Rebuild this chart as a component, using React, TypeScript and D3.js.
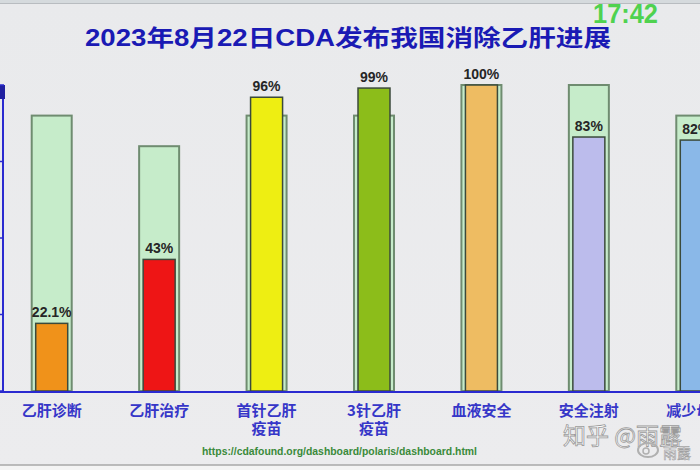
import React from "react";
import * as d3 from "d3";

const categories = ["乙肝诊断", "乙肝治疗", "首针乙肝\n疫苗", "3针乙肝\n疫苗", "血液安全", "安全注射", "减少母婴"];
const actualValues = [22.1, 43, 96, 99, 100, 83, 82];
const valueLabels = ["22.1%", "43%", "96%", "99%", "100%", "83%", "82%"];
const targetValues = [90, 80, 90, 90, 100, 100, 90];
const barColors = ["#f0921a", "#ee1515", "#eeee12", "#8cbd1a", "#eebc62", "#bcbcec", "#8ab8e8"];
const yTicks = [0, 25, 50, 75, 100];

const W = 700;
const H = 470;
const CJK = "'Liberation Sans', Arial, 'Noto Sans CJK SC', sans-serif";

export default function App() {
  const x = d3.scaleBand<string>().domain(categories).range([-2, 750]).padding(0);
  const y = d3.scaleLinear().domain([0, 100]).range([391, 85]);
  const step = x.step();
  const outerW = 40;
  const innerW = 32;

  return (
    <svg width={W} height={H} style={{ position: "absolute", left: 0, top: 0, display: "block" }}>
      <defs>
        <linearGradient id="bg" x1="0" y1="0" x2="0" y2="1">
          <stop offset="0" stopColor="#e9eaec" />
          <stop offset="1" stopColor="#ececee" />
        </linearGradient>
      </defs>
      <rect x={0} y={0} width={W} height={H} fill="url(#bg)" />
      <rect x={0} y={0} width={W} height={3} fill="#d5dadd" />
      <line x1={0} x2={W} y1={3.5} y2={3.5} stroke="#b8bcc0" strokeWidth={1} />
      <rect x={0} y={465} width={W} height={5} fill="#f4f4f4" />
      <line x1={0} x2={W} y1={465} y2={465} stroke="#a8a8a8" strokeWidth={1.5} />

      {/* clock */}
      <text x={593} y={23} fontFamily={CJK} fontSize={27} fontWeight="bold" fill="#4fd24f" textLength={65} lengthAdjust="spacingAndGlyphs">17:42</text>

      {/* title */}
      <text x={85} y={46} fontFamily={CJK} fontSize={23} fontWeight="bold" fill="#1a1ab4" textLength={526} lengthAdjust="spacingAndGlyphs">2023年8月22日CDA发布我国消除乙肝进展</text>

      {/* bars */}
      {categories.map((c, i) => {
        const cx = (x(c) as number) + step / 2;
        return (
          <g key={c}>
            <rect x={cx - outerW / 2} y={y(targetValues[i])} width={outerW} height={y(0) - y(targetValues[i])}
              fill="#c6ecca" stroke="#6f8c70" strokeWidth={2} />
            <rect x={cx - innerW / 2} y={y(actualValues[i])} width={innerW} height={y(0) - y(actualValues[i])}
              fill={barColors[i]} stroke="#3b4a3b" strokeWidth={1.5} />
            <text x={cx} y={y(actualValues[i]) - 6} textAnchor="middle" fontFamily={CJK} fontSize={14}
              fontWeight="bold" fill="#262626">{valueLabels[i]}</text>
          </g>
        );
      })}

      {/* axes */}
      <line x1={3} x2={3} y1={y(100)} y2={y(0)} stroke="#2a2ad0" strokeWidth={2} />
      <rect x={0} y={y(100)} width={5} height={14} fill="#2020a0" />
      {yTicks.map((t) => (
        <line key={t} x1={0} x2={4} y1={y(t)} y2={y(t)} stroke="#2a2ad0" strokeWidth={1.5} />
      ))}
      <line x1={0} x2={W} y1={y(0) + 1} y2={y(0) + 1} stroke="#2a2ad0" strokeWidth={2} />

      {/* category labels */}
      {categories.map((c) => {
        const cx = (x(c) as number) + step / 2;
        const lines = c.split("\n");
        return (
          <text key={c} textAnchor="middle" fontFamily="'Noto Sans CJK SC', sans-serif" fontSize={15}
            fontWeight="bold" fill="#3636c8">
            {lines.map((l, j) => (
              <tspan key={j} x={cx} y={416 + j * 18}>{l}</tspan>
            ))}
          </text>
        );
      })}

      {/* source url */}
      <text x={202} y={455} fontFamily={CJK} fontSize={10.5} fontWeight="bold" fill="#3a8a3a" textLength={275} lengthAdjust="spacingAndGlyphs">https://cdafound.org/dashboard/polaris/dashboard.html</text>

      {/* watermark */}
      <text x={563} y={444} fontFamily="'Noto Sans CJK SC', sans-serif" fontSize={23} fill="#ffffff" stroke="#9a9a9a" strokeWidth={0.8}>知乎 @雨露</text>
      <ellipse cx={648} cy={450} rx={10} ry={7} fill="none" stroke="#b0b0b0" strokeWidth={2} />
      <circle cx={646} cy={451} r={3} fill="none" stroke="#b0b0b0" strokeWidth={1.5} />
      <text x={663} y={458} fontFamily="'Noto Sans CJK SC', sans-serif" fontSize={14} fill="#ffffff" stroke="#a0a0a0" strokeWidth={0.6}>雨露</text>
    </svg>
  );
}
